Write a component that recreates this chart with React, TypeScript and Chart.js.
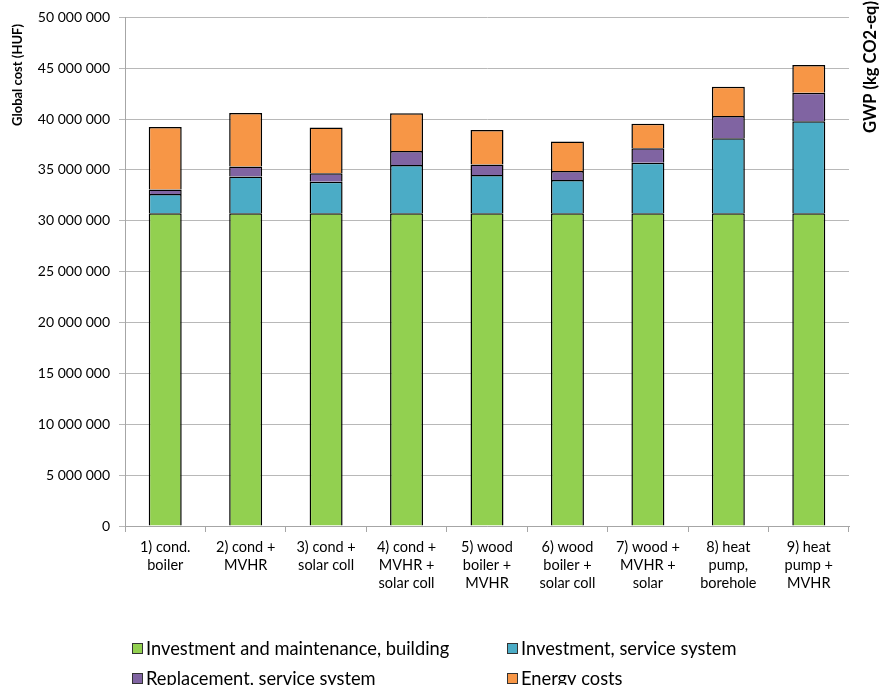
import { useEffect, useRef } from 'react';
import { Chart, registerables } from 'chart.js';

Chart.register(...registerables);

const categories: string[][] = [
  ['1) cond.', 'boiler'],
  ['2) cond +', 'MVHR'],
  ['3) cond +', 'solar coll'],
  ['4) cond +', 'MVHR +', 'solar coll'],
  ['5) wood', 'boiler +', 'MVHR'],
  ['6) wood', 'boiler +', 'solar coll'],
  ['7) wood +', 'MVHR +', 'solar'],
  ['8) heat', 'pump,', 'borehole'],
  ['9) heat', 'pump +', 'MVHR'],
];

const seriesNames = [
  'Investment and maintenance, building',
  'Investment, service system',
  'Replacement, service system',
  'Energy costs',
];

const seriesColors = ['#92D050', '#4BACC6', '#8064A2', '#F79646'];

const buildingCost = [30750000, 30750000, 30750000, 30750000, 30750000, 30750000, 30750000, 30750000, 30750000];
const serviceInvestment = [1900000, 3600000, 3100000, 4750000, 3760000, 3270000, 4950000, 7360000, 9030000];
const serviceReplacement = [430000, 980000, 830000, 1370000, 1020000, 880000, 1430000, 2190000, 2820000];
const energyCosts = [6150000, 5270000, 4490000, 3700000, 3400000, 2890000, 2420000, 2890000, 2710000];

const yTitle = 'Global cost (HUF)';
const y2Title = 'GWP (kg CO2-eq)';

const FONT = 'Lato, "Open Sans", sans-serif';

const fmt = (v: number) => String(Math.round(v)).replace(/\B(?=(\d{3})+(?!\d))/g, ' ');

const extrasPlugin = {
  id: 'extras',
  afterDraw(chart: any) {
    const ctx = chart.ctx as CanvasRenderingContext2D;
    ctx.save();
    ctx.fillStyle = '#000';
    ctx.textAlign = 'center';
    ctx.textBaseline = 'middle';
    // left axis title
    ctx.save();
    ctx.translate(18, 75);
    ctx.rotate(-Math.PI / 2);
    ctx.font = `bold 13px ${FONT}`;
    ctx.fillText(yTitle, 0, 0);
    ctx.restore();
    // right axis title
    ctx.save();
    ctx.translate(871, 67);
    ctx.rotate(-Math.PI / 2);
    ctx.font = `bold 16.5px ${FONT}`;
    ctx.fillText(y2Title, 0, 0);
    ctx.restore();
    // legend
    const cols = [132, 507];
    const rows = [648, 678];
    ctx.font = `18.3px ${FONT}`;
    ctx.textAlign = 'left';
    chart.data.datasets.forEach((ds: any, i: number) => {
      const x = cols[i % 2];
      const y = rows[Math.floor(i / 2)];
      ctx.fillStyle = ds.backgroundColor;
      ctx.fillRect(x, y - 5, 11, 11);
      ctx.strokeStyle = '#333';
      ctx.lineWidth = 1;
      ctx.strokeRect(x + 0.5, y - 4.5, 10, 10);
      ctx.fillStyle = '#000';
      ctx.fillText(ds.label, x + 14, y + 1);
    });
    ctx.restore();
  },
};

export default function App() {
  const ref = useRef<HTMLCanvasElement | null>(null);
  useEffect(() => {
    if (!ref.current) return;
    const values = [buildingCost, serviceInvestment, serviceReplacement, energyCosts];
    const chart = new Chart(ref.current, {
      type: 'bar',
      data: {
        labels: categories,
        datasets: values.map((d, i) => ({
          label: seriesNames[i],
          data: d,
          backgroundColor: seriesColors[i],
          borderColor: '#000',
          borderWidth: 1.5,
          borderSkipped: 'start',
          categoryPercentage: 1,
          barPercentage: 0.41,
        })),
      },
      options: {
        animation: false,
        responsive: false,
        maintainAspectRatio: false,
        layout: { padding: { left: 0, right: 30, top: 17, bottom: 69 } },
        plugins: { legend: { display: false }, tooltip: { enabled: false } },
        scales: {
          x: {
            stacked: true,
            afterFit: (s: any) => { s.height = 90; },
            grid: { display: true, offset: true, drawOnChartArea: false, drawTicks: true, tickLength: 6, color: '#a6a6a6' },
            border: { display: true, color: '#a6a6a6' },
            ticks: { color: '#000', padding: 6, font: { family: FONT, size: 14.5, lineHeight: 1.24 }, maxRotation: 0, autoSkip: false },
          },
          y: {
            stacked: true,
            min: 0,
            max: 50000000,
            afterFit: (s: any) => { s.width = 125; },
            grid: { color: '#b8b8b8', tickLength: 6, drawTicks: true },
            border: { display: true, color: '#a6a6a6' },
            ticks: { stepSize: 5000000, color: '#000', padding: 9, font: { family: FONT, size: 14 }, callback: (v: any) => fmt(Number(v)) },
          },
        },
      },
      plugins: [extrasPlugin],
    });
    return () => chart.destroy();
  }, []);
  return (
    <div style={{ position: 'fixed', left: 0, top: 0, width: 879, height: 685, background: '#fff' }}>
      <canvas ref={ref} width={879} height={685} style={{ width: 879, height: 685, display: 'block' }} />
    </div>
  );
}
